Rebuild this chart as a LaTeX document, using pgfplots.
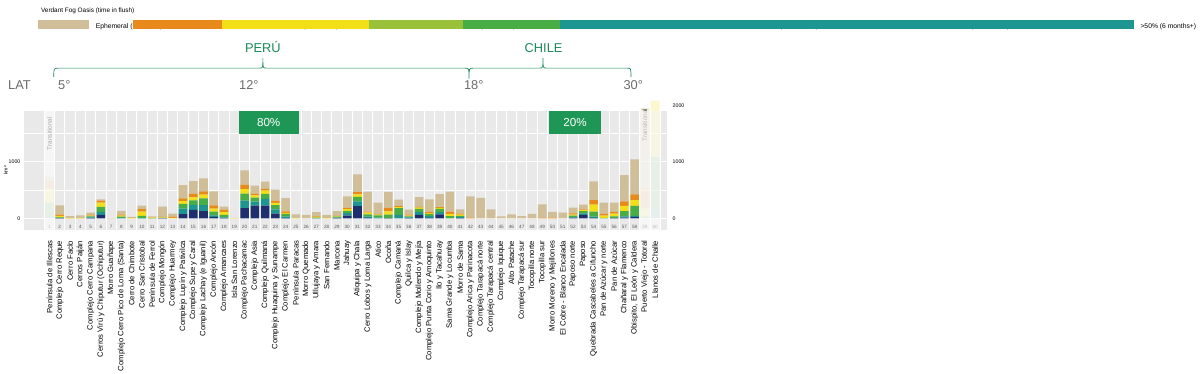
\documentclass[border=0pt]{standalone}
\usepackage{pgfplots}
\usepackage{pgfplotstable}
\pgfplotsset{compat=1.18}
\usepackage{fontspec}
\setmainfont{Liberation Sans}
\definecolor{cnv}{HTML}{1F2F6E}
\definecolor{cte}{HTML}{1D9591}
\definecolor{cgr}{HTML}{48AD45}
\definecolor{clg}{HTML}{9AC13A}
\definecolor{cye}{HTML}{F3DF17}
\definecolor{cor}{HTML}{E88A1B}
\definecolor{cta}{HTML}{CFBE98}
\definecolor{cgreen}{HTML}{1A8A5A}
\definecolor{cbox}{HTML}{1E9655}
\newcommand\pp[2]{({#1*0.5pt},{(642-#2)*0.5pt})}
\pgfplotstableread{
x nv te gr ye or ta fb fg fy fo ft
1 0 0 0 0 0 0 50 230 245 135 80
2 3 5 10 25 25 162 0 0 0 0 0
3 0 0 0 3 3 34 0 0 0 0 0
4 0 0 0 3 3 49 0 0 0 0 0
5 5 15 15 15 10 40 0 0 0 0 0
6 60 57 87 74 37 23 0 0 0 0 0
7 0 0 0 2 0 3 0 0 0 0 0
8 0 10 20 20 15 70 0 0 0 0 0
9 0 0 0 5 5 15 0 0 0 0 0
10 0 5 40 74 44 62 0 0 0 0 0
11 0 0 5 10 5 15 0 0 0 0 0
12 3 5 0 10 10 182 0 0 0 0 0
13 0 0 0 10 20 55 0 0 0 0 0
14 77 94 84 50 50 235 0 0 0 0 0
15 150 87 84 50 64 225 0 0 0 0 0
16 128 107 117 70 54 234 0 0 0 0 0
17 27 27 67 50 60 249 0 0 0 0 0
18 5 15 40 50 47 53 0 0 0 0 0
19 0 0 0 5 0 5 0 0 0 0 0
20 181 134 124 80 77 254 0 0 0 0 0
21 225 70 74 37 34 140 0 0 0 0 0
22 228 117 91 54 34 126 0 0 0 0 0
23 84 77 74 40 34 201 0 0 0 0 0
24 5 27 47 20 27 234 0 0 0 0 0
25 0 0 0 5 0 65 0 0 0 0 0
26 0 0 0 0 0 60 0 0 0 0 0
27 0 5 10 10 10 75 0 0 0 0 0
28 0 0 0 5 5 50 0 0 0 0 0
29 5 10 15 10 10 80 0 0 0 0 0
30 50 44 40 30 20 206 0 0 0 0 0
31 218 84 77 44 40 317 0 0 0 0 0
32 10 20 40 30 20 355 0 0 0 0 0
33 0 15 40 10 15 200 0 0 0 0 0
34 5 0 60 60 60 285 0 0 0 0 0
35 0 60 120 20 15 115 0 0 0 0 0
36 5 15 15 15 15 90 0 0 0 0 0
37 60 50 60 20 15 170 0 0 0 0 0
38 10 30 40 15 20 220 0 0 0 0 0
39 70 40 60 15 15 230 0 0 0 0 0
40 0 0 40 40 40 355 0 0 0 0 0
41 5 20 20 20 20 75 0 0 0 0 0
42 0 0 0 0 15 375 0 0 0 0 0
43 0 0 0 0 0 362 0 0 0 0 0
44 0 0 0 0 0 160 0 0 0 0 0
45 0 0 0 0 0 37 0 0 0 0 0
46 0 0 0 0 0 70 0 0 0 0 0
47 0 0 0 0 0 40 0 0 0 0 0
48 0 0 0 0 0 80 0 0 0 0 0
49 0 0 0 0 10 238 0 0 0 0 0
50 0 0 0 0 15 100 0 0 0 0 0
51 0 0 0 0 0 104 0 0 0 0 0
52 10 10 30 15 25 100 0 0 0 0 0
53 60 30 40 15 15 85 0 0 0 0 0
54 10 20 90 125 80 330 0 0 0 0 0
55 0 0 10 40 30 200 0 0 0 0 0
56 5 0 30 50 30 165 0 0 0 0 0
57 15 20 95 90 80 465 0 0 0 0 0
58 25 20 175 105 100 620 0 0 0 0 0
59 0 0 0 0 0 0 0 30 145 360 1420
60 0 0 0 0 0 0 160 925 1000 0 0
}\data
\begin{document}
\begin{tikzpicture}
\path[fill=white] (0,0) rectangle (600pt,321pt);
\node[anchor=west,font=\fontsize{5.5}{6}\selectfont] at \pp{58}{19} {Verdant Fog Oasis (time in flush)};
\foreach \c/\xa/\t in {cta/60/Ephemeral (< 1 week),cor/223/2-4\% (1-2 weeks),cye/375/4-8\% (2-4 weeks),clg/629/8-25\% (1-3 months),cgr/790/25-50\% (3-6 months),cte/957/>50\% (6 months+)}{
  \fill[\c] \pp{\xa}{34} rectangle \pp{\xa+28}{49};
  \node[anchor=west,font=\fontsize{5.8}{6}\selectfont] at \pp{\xa+32}{46} {\t};
}
\node[cgreen,font=\fontsize{11}{12}\selectfont] at \pp{446}{80} {PERÚ};
\node[cgreen,font=\fontsize{11}{12}\selectfont] at \pp{928}{82} {CHILE};
\draw[cgreen,line width=0.6pt] \pp{87}{132} .. controls \pp{87}{117} .. \pp{95}{117} -- \pp{440}{117} .. controls \pp{446}{117} .. \pp{446}{100} .. controls \pp{446}{117} .. \pp{452}{117} -- \pp{793}{117} .. controls \pp{800}{117} .. \pp{800}{135} .. controls \pp{800}{117} .. \pp{807}{117} -- \pp{921}{117} .. controls \pp{927}{117} .. \pp{927}{100} .. controls \pp{927}{117} .. \pp{933}{117} -- \pp{1072}{117} .. controls \pp{1078}{117} .. \pp{1078}{132};
\foreach \xa/\t in {28/LAT,105/5°,422/12°,808/18°,1082/30°}
  \node[gray!85!black,font=\fontsize{11}{12}\selectfont] at \pp{\xa}{146} {\t};
\begin{axis}[
  at={(31pt,133.5pt)}, anchor=origin, scale only axis,
  width=551.5pt, height=102.5pt,
  xmin=-1.44, xmax=61.13, ymin=-206, ymax=1907,
  clip=false,
  ybar stacked, bar width=7.4pt,
  axis line style={draw=none},
  axis background/.style={fill=gray!17},
  ytick={0,500,1000,1500}, yticklabels={0,,1000,},
  yticklabel style={font=\fontsize{4.5}{5}\selectfont},
  ymajorgrids, grid style={white,line width=1pt},
  minor xtick={0.5,1.5,...,60.5}, xminorgrids,
  minor grid style={white,line width=0.8pt},
  major tick length=0pt, minor tick length=0pt,
  ylabel={km²}, ylabel style={font=\fontsize{4.5}{5}\selectfont, yshift=-6pt},
  xtick={1,...,60},
  xticklabels={Península de Illescas,Complejo Cerro Reque,Cerro Faclo,Cerros Paiján,Complejo Cerro Campana,Cerros Virú y Chiputur (Ochiputur),Morro Guañape,Complejo Cerro Pico de Loma (Santa),Cerro de Chimbote,Cerro San Cristobal,Península de Ferrol,Complejo Mongón,Complejo Huarmey,Complejo Lupín y Pativilca,Complejo Supe y Caral,Complejo Lachay (e Iguanil),Complejo Ancón,Complejo Amancaes,Isla San Lorenzo,Complejo Pachacamac,Complejo Asia,Complejo Quilmaná,Complejo Huaquina y Sunampe,Complejo El Carmen,Península Paracas,Morro Quemado,Ullujaya y Amara,San Fernando,Marcona,Jahuay,Atiquipa y Chala,Cerro Lobos y  Loma Larga,Atico,Ocoña,Complejo Camaná,Quilca y Islay,Complejo Mollendo y Mejía,Complejo Punta Corio y Amoquinto,Ilo y Tacahuay,Sama Grande y Locumba,Morro de Sama,Complejo Arica y Parinacota,Complejo Tarapacá norte,Complejo Tarapacá central,Complejo Iquique,Alto Patache,Complejo Tarapacá sur,Tocopilla norte,Tocopilla sur,Morro Moreno y Mejillones,El Cobre - Blanco Encalada,Paposo norte,Paposo,Quebrada Cascabeles a Cifuncho,Pan de Azúcar y norte,Pan de Azúcar,Chañaral y Flamenco,{Obispito, El León y Caldera},Puerto Viejo - Totoral,Llanos de Challe},
  xticklabel style={rotate=90,anchor=east,font=\fontsize{6.6}{7}\selectfont,inner sep=0pt},
  xticklabel shift=9pt,
]
\fill[white,opacity=0.6] (axis cs:0.5,-206) rectangle (axis cs:1.5,1907);
\fill[white,opacity=0.6] (axis cs:58.5,-206) rectangle (axis cs:60.5,1907);
\addplot[fill=cnv,draw=none] table[x=x,y=nv]{\data};
\addplot[fill=cte,draw=none] table[x=x,y=te]{\data};
\addplot[fill=cgr,draw=none] table[x=x,y=gr]{\data};
\addplot[fill=cye,draw=none] table[x=x,y=ye]{\data};
\addplot[fill=cor,draw=none] table[x=x,y=or]{\data};
\addplot[fill=cta,draw=none] table[x=x,y=ta]{\data};
\addplot[fill=cte,fill opacity=0.2,draw=none] table[x=x,y=fb]{\data};
\addplot[fill=cgr,fill opacity=0.22,draw=none] table[x=x,y=fg]{\data};
\addplot[fill=cye,fill opacity=0.22,draw=none] table[x=x,y=fy]{\data};
\addplot[fill=cor,fill opacity=0.22,draw=none] table[x=x,y=fo]{\data};
\addplot[fill=cta,fill opacity=0.3,draw=none] table[x=x,y=ft]{\data};
\pgfplotsinvokeforeach{1,...,60}{\node[font=\fontsize{4}{4}\selectfont,text=gray!70!black] at (axis cs:#1,-150) {#1};}
\node[rotate=90,font=\fontsize{5.5}{6}\selectfont,text=gray!30!black] at (axis cs:1,1500) {Transitional};
\node[rotate=90,font=\fontsize{5.5}{6}\selectfont,text=gray!30!black] at (axis cs:59,1650) {Transitional};
\node[anchor=west,font=\fontsize{4.5}{5}\selectfont] at (axis cs:61.3,0) {0};
\node[anchor=west,font=\fontsize{4.5}{5}\selectfont] at (axis cs:61.3,1000) {1000};
\node[anchor=west,font=\fontsize{4.5}{5}\selectfont] at (axis cs:61.3,2000) {2000};
\end{axis}
\fill[cbox] \pp{405}{190} rectangle \pp{508}{230};
\node[white,font=\fontsize{10}{11}\selectfont] at \pp{456}{210} {80\%};
\fill[cbox] \pp{938}{190} rectangle \pp{1027}{230};
\node[white,font=\fontsize{10}{11}\selectfont] at \pp{982}{210} {20\%};
\end{tikzpicture}
\end{document}
